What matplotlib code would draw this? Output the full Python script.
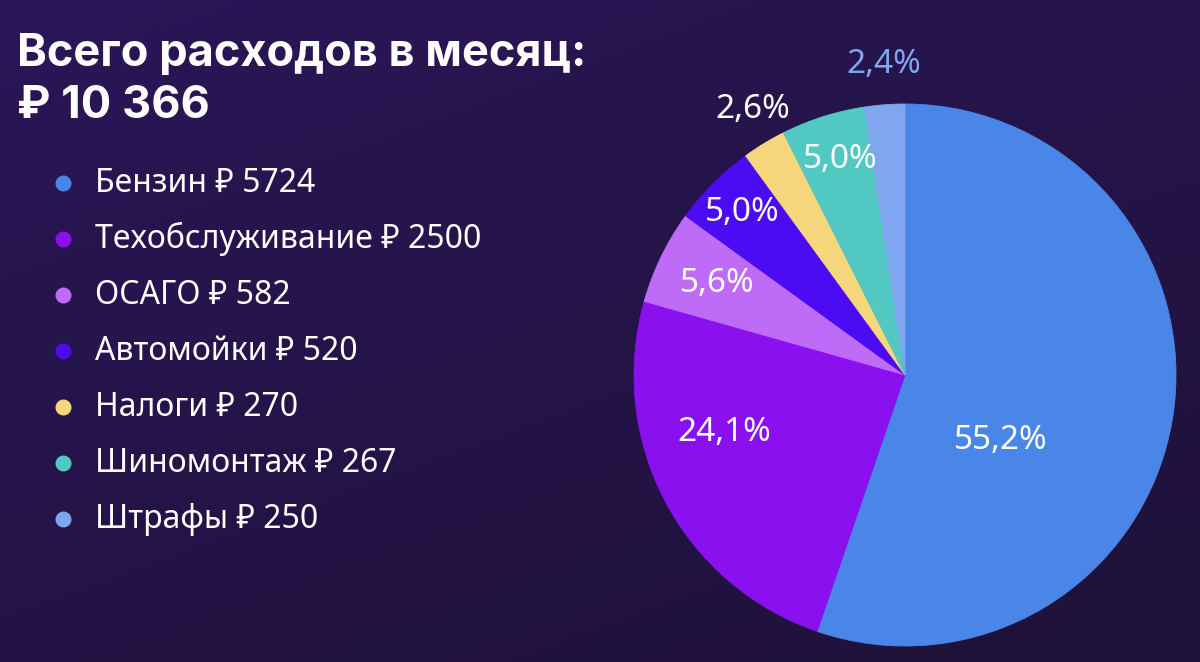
import matplotlib.pyplot as plt
import numpy as np

# данные
title_lines = ["Всего расходов в месяц:", "₽ 10 366"]
categories = ["Бензин", "Техобслуживание", "ОСАГО", "Автомойки",
              "Налоги", "Шиномонтаж", "Штрафы"]
amounts = [5724, 2500, 582, 520, 270, 267, 250]
shares = [55.2, 24.1, 5.6, 5.0, 2.6, 5.0, 2.4]
share_labels = ["55,2%", "24,1%", "5,6%", "5,0%", "2,6%", "5,0%", "2,4%"]

# стиль
colors = ["#4A86E8", "#8A10F0", "#BE6BF7", "#4B0BF3",
          "#F7D77C", "#52C8C3", "#7FA7F0"]
label_colors = ["white", "white", "white", "white", "white", "white", "#7FA7F0"]
label_dist = [0.43, 0.70, 0.77, 0.85, 1.13, 0.83, 1.15]
label_angle_shift = [-25, -10, 0, 0, -1.5, -1, -0.5]

W, H = 1200, 662
fig = plt.figure(figsize=(W / 100, H / 100), dpi=100)

# фон с лёгким градиентом
bg = fig.add_axes([0, 0, 1, 1])
yy, xx = np.mgrid[0:1:200j, 0:1:360j]
grad = 0.6 * yy + 0.4 * xx
bg.imshow(grad, cmap=plt.matplotlib.colors.LinearSegmentedColormap.from_list(
    "bg", ["#2B1658", "#1E1238"]), aspect="auto", extent=[0, 1, 0, 1])
bg.set_xlim(0, 1)
bg.set_ylim(0, 1)
bg.axis("off")

title_fonts = ["Inter", "DejaVu Sans"]
fonts = ["Noto Sans", "DejaVu Sans"]

fig.text(17 / W, 1 - 54 / H, title_lines[0], color="white", fontsize=32.5,
         fontweight="bold", family=title_fonts, va="center", ha="left")
fig.text(17 / W, 1 - 106 / H, title_lines[1], color="white", fontsize=32.5,
         fontweight="bold", family=title_fonts, va="center", ha="left")

# легенда
for i, (name, amount) in enumerate(zip(categories, amounts)):
    y = 1 - (183 + 56 * i) / H
    bg.scatter([63 / W], [y], s=110, color=colors[i], zorder=3)
    bg.text(95 / W, y, f"{name} ₽ {amount}", color="white", fontsize=23,
            family=fonts, va="center", ha="left")

# круговая диаграмма
cx, cy, r = 905, 375, 271
ax = fig.add_axes([(cx - r) / W, (H - cy - r) / H, 2 * r / W, 2 * r / H])
wedges, _ = ax.pie(shares, colors=colors, startangle=90, counterclock=False,
                   wedgeprops={"linewidth": 0.6})
for w, c in zip(wedges, colors):
    w.set_edgecolor(c)
ax.set_xlim(-1, 1)
ax.set_ylim(-1, 1)
ax.set_aspect("equal")

for i, w in enumerate(wedges):
    mid = np.deg2rad((w.theta1 + w.theta2) / 2 + label_angle_shift[i])
    d = label_dist[i]
    ax.text(d * np.cos(mid), d * np.sin(mid), share_labels[i],
            color=label_colors[i], fontsize=24, family=fonts,
            ha="center", va="center", clip_on=False)

fig.savefig("out.png", dpi=100, facecolor="#241448")
